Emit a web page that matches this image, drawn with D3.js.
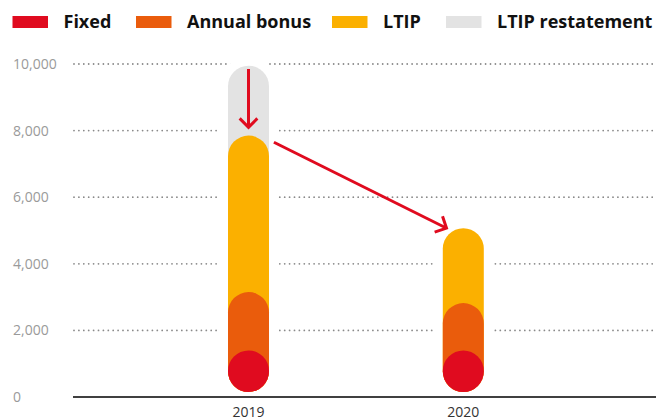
<!DOCTYPE html>
<html>
<head>
<meta charset="utf-8">
<script src="https://cdn.jsdelivr.net/npm/d3@7"></script>
<style>
  body { margin: 0; background: #fff; }
  svg { display: block; font-family: 'Open Sans', sans-serif; }
</style>
</head>
<body>
<div id="chart"></div>
<script>
const years = ['2019', '2020'];
const fixed = [1400, 1400];
const annualBonus = [1750, 1420];
const ltip = [4700, 2250];
const ltipRestatement = [2100, 0];
const yTicks = [0, 2000, 4000, 6000, 8000, 10000];

const seriesNames = ['Fixed', 'Annual bonus', 'LTIP', 'LTIP restatement'];
const colors = ['#e00b1f', '#ea5c0c', '#fbb000', '#e3e3e3'];

// annotation arrows: [year, value, side offset in bar widths]
const arrows = [
  { from: ['2019', 9850, 0], to: ['2019', 8100, 0] },
  { from: ['2019', 7650, 0.62], to: ['2020', 5070, -0.41] }
];

const width = 656, height = 420;
const margin = { top: 64, right: 0, bottom: 23, left: 73 };
const barW = 41;

const svg = d3.select('#chart').append('svg')
  .attr('width', width)
  .attr('height', height);

const x = d3.scalePoint()
  .domain(years)
  .range([margin.left + 175.5, margin.left + 390.3]);

const y = d3.scaleLinear()
  .domain([0, 10000])
  .range([height - margin.bottom, margin.top]);

// Legend
const legend = svg.append('g');
const legendX = [12.5, 136, 332, 446];
seriesNames.forEach((name, i) => {
  const g = legend.append('g').attr('transform', `translate(${legendX[i]},0)`);
  g.append('rect')
    .attr('x', 0).attr('y', 16)
    .attr('width', 35.5).attr('height', 12)
    .attr('fill', colors[i]);
  g.append('text')
    .attr('x', 51).attr('y', 28)
    .attr('font-size', 18)
    .attr('font-weight', 700)
    .attr('fill', '#111')
    .text(name);
});

// Y axis labels
svg.append('g')
  .selectAll('text')
  .data(yTicks)
  .enter()
  .append('text')
  .attr('x', 13)
  .attr('y', d => y(d))
  .attr('dy', '0.35em')
  .attr('font-size', 14)
  .attr('fill', '#9a9a9a')
  .text(d => d3.format(',')(d));

// Dotted gridlines
svg.append('g')
  .selectAll('line')
  .data(yTicks.filter(d => d > 0))
  .enter()
  .append('line')
  .attr('x1', margin.left + 1)
  .attr('x2', width)
  .attr('y1', d => y(d))
  .attr('y2', d => y(d))
  .attr('stroke', '#8a8a8a')
  .attr('stroke-width', 1.8)
  .attr('stroke-linecap', 'round')
  .attr('stroke-dasharray', '0,4.9');

// Bars: pills from the bottom to each cumulative total, drawn back to front
const bottom = y(0) - 5;
const stacks = years.map((yr, i) => {
  const vals = [fixed[i], annualBonus[i], ltip[i], ltipRestatement[i]];
  return { year: yr, cum: Array.from(d3.cumsum(vals)) };
});

const bars = svg.append('g');
stacks.forEach(s => {
  const cx = x(s.year);
  // white gap around the bar over the gridlines
  const pad = 9;
  const topAll = y(s.cum[3]) - pad;
  bars.append('rect')
    .attr('x', cx - barW / 2 - pad)
    .attr('y', topAll)
    .attr('width', barW + pad * 2)
    .attr('height', bottom - topAll)
    .attr('fill', '#fff')
    .attr('rx', barW / 2 + pad);
  for (let k = 3; k >= 0; k--) {
    if (k === 3 && s.cum[3] === s.cum[2]) continue;
    const top = y(s.cum[k]);
    bars.append('rect')
      .attr('x', cx - barW / 2)
      .attr('y', top)
      .attr('width', barW)
      .attr('height', bottom - top)
      .attr('rx', barW / 2)
      .attr('fill', colors[k]);
  }
});

// Baseline
svg.append('line')
  .attr('x1', margin.left)
  .attr('x2', width)
  .attr('y1', y(0))
  .attr('y2', y(0))
  .attr('stroke', '#000')
  .attr('stroke-width', 1.3);

// X axis labels
svg.append('g')
  .selectAll('text')
  .data(years)
  .enter()
  .append('text')
  .attr('x', d => x(d))
  .attr('y', 417)
  .attr('text-anchor', 'middle')
  .attr('font-size', 14)
  .attr('fill', '#333')
  .text(d => d);

// Arrows
const arrowG = svg.append('g')
  .attr('stroke', '#e00b1f')
  .attr('stroke-width', 3)
  .attr('fill', 'none');
arrows.forEach(a => {
  const x1 = x(a.from[0]) + a.from[2] * barW, y1 = y(a.from[1]);
  const x2 = x(a.to[0]) + a.to[2] * barW, y2 = y(a.to[1]);
  const ang = Math.atan2(y2 - y1, x2 - x1);
  const len = 12.5, spread = Math.PI / 4;
  arrowG.append('line')
    .attr('x1', x1).attr('y1', y1)
    .attr('x2', x2 - Math.cos(ang) * 1.5).attr('y2', y2 - Math.sin(ang) * 1.5);
  arrowG.append('path')
    .attr('stroke-linejoin', 'miter')
    .attr('d', `M${x2 - len * Math.cos(ang - spread)},${y2 - len * Math.sin(ang - spread)}` +
      `L${x2},${y2}` +
      `L${x2 - len * Math.cos(ang + spread)},${y2 - len * Math.sin(ang + spread)}`);
});
</script>
</body>
</html>
